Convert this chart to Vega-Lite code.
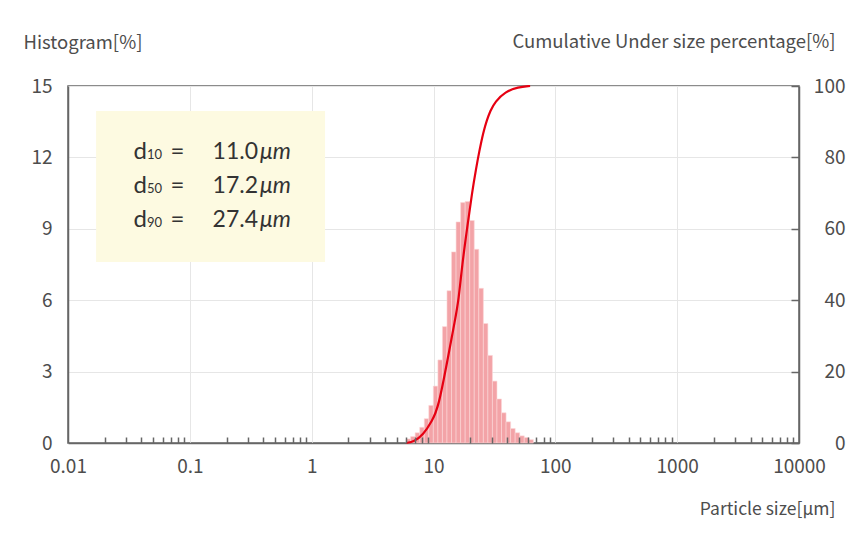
{
  "$schema": "https://vega.github.io/schema/vega-lite/v6.json",
  "width": 731,
  "height": 357,
  "autosize": {"type": "none"},
  "padding": {"left": 68, "top": 86, "right": 69, "bottom": 105},
  "background": "white",
  "config": {
    "font": "Noto Sans CJK JP",
    "view": {"stroke": "#666666", "strokeWidth": 1.5},
    "axis": {
      "labelFont": "Noto Sans CJK JP",
      "labelFontSize": 19,
      "labelColor": "#4d4d4d",
      "titleFont": "Noto Sans CJK JP",
      "titleFontSize": 18.5,
      "titleFontWeight": "normal",
      "titleColor": "#4d4d4d",
      "domainColor": "#666666",
      "domainWidth": 1.5,
      "tickColor": "#666666",
      "tickWidth": 1.5,
      "gridColor": "#e6e6e6",
      "gridWidth": 1
    }
  },
  "datasets": {
    "hist": [
      {"lo": 5.96, "hi": 6.49, "pct": 0.17},
      {"lo": 6.49, "hi": 7.07, "pct": 0.27},
      {"lo": 7.07, "hi": 7.71, "pct": 0.43},
      {"lo": 7.71, "hi": 8.40, "pct": 0.66},
      {"lo": 8.40, "hi": 9.15, "pct": 1.02},
      {"lo": 9.15, "hi": 9.97, "pct": 1.58},
      {"lo": 9.97, "hi": 10.87, "pct": 2.39},
      {"lo": 10.87, "hi": 11.84, "pct": 3.49},
      {"lo": 11.84, "hi": 12.90, "pct": 4.89},
      {"lo": 12.90, "hi": 14.06, "pct": 6.40},
      {"lo": 14.06, "hi": 15.32, "pct": 8.03},
      {"lo": 15.32, "hi": 16.70, "pct": 9.29},
      {"lo": 16.70, "hi": 18.19, "pct": 10.10},
      {"lo": 18.19, "hi": 19.83, "pct": 10.15},
      {"lo": 19.83, "hi": 21.60, "pct": 9.35},
      {"lo": 21.60, "hi": 23.54, "pct": 8.14},
      {"lo": 23.54, "hi": 25.66, "pct": 6.50},
      {"lo": 25.66, "hi": 27.95, "pct": 5.02},
      {"lo": 27.95, "hi": 30.46, "pct": 3.68},
      {"lo": 30.46, "hi": 33.19, "pct": 2.60},
      {"lo": 33.19, "hi": 36.16, "pct": 1.85},
      {"lo": 36.16, "hi": 39.41, "pct": 1.27},
      {"lo": 39.41, "hi": 42.95, "pct": 0.89},
      {"lo": 42.95, "hi": 46.80, "pct": 0.61},
      {"lo": 46.80, "hi": 51.00, "pct": 0.43},
      {"lo": 51.00, "hi": 55.56, "pct": 0.30},
      {"lo": 55.56, "hi": 60.55, "pct": 0.23},
      {"lo": 60.55, "hi": 65.98, "pct": 0.14}
    ],
    "cum": [
      {"size": 5.96, "cum": 0},
      {"size": 6.93, "cum": 0.42},
      {"size": 8.21, "cum": 2.24},
      {"size": 9.74, "cum": 6.16},
      {"size": 11.0, "cum": 10.0},
      {"size": 13.18, "cum": 24.2},
      {"size": 15.04, "cum": 34.5},
      {"size": 16.08, "cum": 40.1},
      {"size": 17.2, "cum": 50.0},
      {"size": 18.88, "cum": 60.2},
      {"size": 20.75, "cum": 70.3},
      {"size": 22.38, "cum": 76.9},
      {"size": 23.68, "cum": 81.5},
      {"size": 25.68, "cum": 87.2},
      {"size": 27.4, "cum": 90.4},
      {"size": 29.2, "cum": 93.0},
      {"size": 32.05, "cum": 95.6},
      {"size": 38.71, "cum": 98.4},
      {"size": 49.5, "cum": 99.7},
      {"size": 62.1, "cum": 100}
    ],
    "dvals": [
      {"sub": "10", "val": "11.0", "yv": 11.92},
      {"sub": "50", "val": "17.2", "yv": 10.49},
      {"sub": "90", "val": "27.4", "yv": 9.09}
    ]
  },
  "layer": [
    {
      "layer": [
        {
          "data": {"values": [{}]},
          "mark": {"type": "rect", "color": "#fdfae1"},
          "encoding": {
            "x": {"datum": 0.017, "type": "quantitative", "scale": {"type": "log", "domain": [0.01, 10000], "nice": false}},
            "x2": {"datum": 1.288},
            "y": {"datum": 13.95, "type": "quantitative", "scale": {"domain": [0, 15], "nice": false}},
            "y2": {"datum": 7.6}
          }
        },
        {
          "data": {"name": "hist"},
          "mark": {"type": "rect", "color": "#f3a3a7", "stroke": "#fbd6d8", "strokeWidth": 0.6},
          "encoding": {
            "x": {
              "field": "lo",
              "type": "quantitative",
              "scale": {"type": "log", "domain": [0.01, 10000], "nice": false},
              "axis": {
                "values": [0.01, 0.1, 1, 10, 100, 1000, 10000],
                "format": "~g",
                "ticks": false,
                "grid": true,
                "labelFlush": false,
                "labelOverlap": false,
                "labelPadding": 14,
                "title": "Particle size[µm]",
                "titleFontSize": 17.5,
                "titleAlign": "right",
                "titleBaseline": "alphabetic",
                "titleX": 767,
                "titleY": 71
              }
            },
            "x2": {"field": "hi"},
            "y": {
              "field": "pct",
              "type": "quantitative",
              "scale": {"domain": [0, 15], "nice": false},
              "axis": {
                "values": [0, 3, 6, 9, 12, 15],
                "ticks": false,
                "grid": true,
                "labelPadding": 16,
                "title": "Histogram[%]",
                "titleAngle": 0,
                "titleAlign": "left",
                "titleBaseline": "alphabetic",
                "titleX": -45,
                "titleY": -38
              }
            }
          }
        },
        {
          "data": {"name": "dvals"},
          "mark": {"type": "text", "align": "left", "baseline": "alphabetic", "fontSize": 24, "color": "#333333", "font": "Lato"},
          "encoding": {
            "x": {"datum": 0.0345, "type": "quantitative", "scale": {"type": "log", "domain": [0.01, 10000], "nice": false}},
            "y": {"field": "yv", "type": "quantitative", "scale": {"domain": [0, 15], "nice": false}},
            "text": {"value": "d"}
          }
        },
        {
          "data": {"name": "dvals"},
          "mark": {"type": "text", "align": "left", "baseline": "alphabetic", "fontSize": 13, "color": "#333333", "font": "Lato"},
          "encoding": {
            "x": {"datum": 0.0445, "type": "quantitative", "scale": {"type": "log", "domain": [0.01, 10000], "nice": false}},
            "y": {"field": "yv", "type": "quantitative", "scale": {"domain": [0, 15], "nice": false}},
            "text": {"field": "sub"}
          }
        },
        {
          "data": {"name": "dvals"},
          "mark": {"type": "text", "align": "left", "baseline": "alphabetic", "fontSize": 24, "color": "#333333", "font": "Lato"},
          "encoding": {
            "x": {"datum": 0.0695, "type": "quantitative", "scale": {"type": "log", "domain": [0.01, 10000], "nice": false}},
            "y": {"field": "yv", "type": "quantitative", "scale": {"domain": [0, 15], "nice": false}},
            "text": {"value": "="}
          }
        },
        {
          "data": {"name": "dvals"},
          "mark": {"type": "text", "align": "right", "baseline": "alphabetic", "fontSize": 23, "color": "#333333", "font": "Lato"},
          "encoding": {
            "x": {"datum": 0.363, "type": "quantitative", "scale": {"type": "log", "domain": [0.01, 10000], "nice": false}},
            "y": {"field": "yv", "type": "quantitative", "scale": {"domain": [0, 15], "nice": false}},
            "text": {"field": "val"}
          }
        },
        {
          "data": {"name": "dvals"},
          "mark": {"type": "text", "align": "left", "baseline": "alphabetic", "fontSize": 23, "fontStyle": "italic", "color": "#333333", "font": "Lato"},
          "encoding": {
            "x": {"datum": 0.377, "type": "quantitative", "scale": {"type": "log", "domain": [0.01, 10000], "nice": false}},
            "y": {"field": "yv", "type": "quantitative", "scale": {"domain": [0, 15], "nice": false}},
            "text": {"value": "μm"}
          }
        }
      ]
    },
    {
      "data": {"name": "cum"},
      "mark": {"type": "line", "color": "#e60012", "strokeWidth": 2.2, "interpolate": "basis"},
      "encoding": {
        "x": {
          "field": "size",
          "type": "quantitative",
          "scale": {"type": "log", "domain": [0.01, 10000], "nice": false},
          "axis": {
            "orient": "bottom",
            "values": [0.02, 0.03, 0.04, 0.05, 0.06, 0.07, 0.08, 0.09, 0.2, 0.3, 0.4, 0.5, 0.6, 0.7, 0.8, 0.9, 2, 3, 4, 5, 6, 7, 8, 9, 20, 30, 40, 50, 60, 70, 80, 90, 200, 300, 400, 500, 600, 700, 800, 900, 2000, 3000, 4000, 5000, 6000, 7000, 8000, 9000],
            "labels": false,
            "grid": false,
            "domain": false,
            "ticks": true,
            "tickSize": -6,
            "title": null,
            "zindex": 1
          }
        },
        "y": {
          "field": "cum",
          "type": "quantitative",
          "scale": {"domain": [0, 100], "nice": false},
          "axis": {
            "orient": "right",
            "values": [0, 20, 40, 60, 80, 100],
            "grid": false,
            "ticks": true,
            "tickSize": -8,
            "labelAlign": "right",
            "labelPadding": 54,
            "title": "Cumulative Under size percentage[%]",
            "titleAngle": 0,
            "titleAlign": "right",
            "titleBaseline": "alphabetic",
            "titleX": 36,
            "titleY": -39,
            "zindex": 1
          }
        }
      }
    }
  ],
  "resolve": {"scale": {"y": "independent"}, "axis": {"x": "independent"}}
}
